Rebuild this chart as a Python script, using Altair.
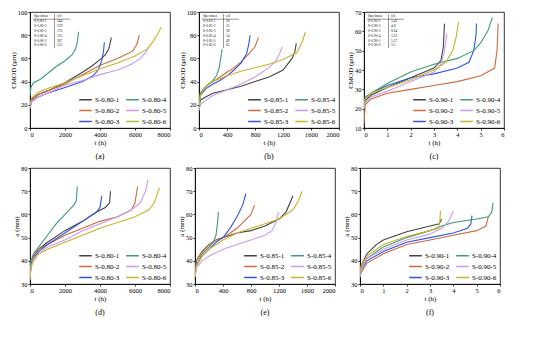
import altair as alt
import pandas as pd

FONT = "Liberation Serif"
COLORS = ["#424242", "#D2693C", "#2F55E0", "#3C9C74", "#C99CEB", "#C9B22C"]

# ---------------- panel (a): CMOD vs t, S-0.80 ----------------
A_NAMES = ["S-0.80-1", "S-0.80-2", "S-0.80-3", "S-0.80-4", "S-0.80-5", "S-0.80-6"]
A_T = [
    [0, 100, 500, 1000, 2000, 3000, 3500, 4000, 4300, 4500, 4650],
    [0, 100, 500, 1000, 2000, 3000, 4000, 5000, 5700, 5900, 6100, 6250],
    [0, 100, 500, 1000, 2000, 3000, 3600, 3900, 4100, 4200, 4250],
    [0, 50, 200, 600, 1000, 1500, 2000, 2400, 2600, 2700, 2780],
    [0, 100, 500, 1000, 2000, 3000, 4000, 5000, 5800, 6300, 6600, 6800],
    [0, 100, 500, 1000, 2000, 3000, 4000, 5000, 6000, 6700, 7000, 7300, 7500],
]
A_V = [
    [18, 25, 29, 32, 39, 48, 53, 59, 63, 68, 78],
    [17, 24, 29, 32, 38, 46, 54, 60, 65, 67, 72, 80],
    [18, 23, 27, 30, 35, 40, 45, 50, 58, 66, 74],
    [28, 35, 39, 42, 47, 53, 58, 63, 68, 74, 83],
    [17, 23, 27, 30, 37, 41, 46, 50, 55, 60, 65, 70],
    [20, 26, 31, 34, 39, 45, 51, 56, 62, 68, 74, 81, 87],
]
A_TABLE = ["244", "239", "176", "125", "287", "312"]

# ---------------- panel (b): CMOD vs t, S-0.85 ----------------
B_NAMES = ["S-0.85-1", "S-0.85-2", "S-0.85-3", "S-0.85-4", "S-0.85-5", "S-0.85-6"]
B_T = [
    [0, 20, 100, 200, 400, 600, 800, 1000, 1200, 1330, 1370, 1390],
    [0, 20, 100, 200, 300, 400, 500, 600, 700, 800, 850],
    [0, 20, 100, 200, 300, 400, 500, 600, 680, 710, 730],
    [0, 20, 100, 200, 250, 290, 310, 330],
    [0, 20, 100, 200, 400, 600, 800, 1000, 1100, 1150, 1190],
    [0, 20, 100, 200, 400, 600, 800, 1000, 1200, 1400, 1480, 1520],
]
B_V = [
    [18, 24, 27, 30, 33, 36, 40, 44, 50, 60, 66, 73],
    [20, 30, 36, 40, 44, 48, 52, 57, 63, 70, 78],
    [20, 28, 34, 38, 41, 45, 50, 56, 64, 72, 80],
    [20, 30, 36, 41, 45, 52, 60, 68],
    [15, 20, 24, 28, 33, 38, 44, 52, 58, 64, 70],
    [18, 28, 36, 40, 45, 49, 52, 55, 59, 65, 75, 83],
]
B_TABLE = ["58", "35", "38", "14", "49", "65"]

# ---------------- panel (c): CMOD vs t, S-0.90 ----------------
C_NAMES = ["S-0.90-1", "S-0.90-2", "S-0.90-3", "S-0.90-4", "S-0.90-5", "S-0.90-6"]
C_T = [
    [0, 0.05, 0.3, 1, 2, 3, 3.3, 3.4, 3.45],
    [0, 0.05, 0.3, 1, 2, 3, 4, 5, 5.6, 5.7, 5.75],
    [0, 0.05, 0.3, 1, 2, 3, 4, 4.5, 4.7, 4.8, 4.82],
    [0, 0.05, 0.3, 1, 2, 3, 4, 4.7, 5, 5.3, 5.5],
    [0, 0.05, 0.3, 1, 2, 3, 3.3, 3.45, 3.55],
    [0, 0.05, 0.3, 1, 2, 3, 3.5, 3.8, 3.95, 4.05],
]
C_V = [
    [20, 24, 27, 31, 36, 41, 45, 52, 64],
    [12, 22, 25, 28, 30, 32, 34, 37, 41, 50, 64],
    [20, 25, 28, 32, 36, 38, 41, 44, 50, 58, 64],
    [22, 26, 28, 33, 39, 43, 46, 50, 54, 60, 67],
    [20, 23, 26, 29, 34, 39, 43, 50, 59],
    [21, 25, 28, 31, 35, 40, 44, 50, 57, 65],
]
C_TABLE = ["3.42", "4.8", "0.64", "3.33", "5.27", "3.5"]

# ---------------- panel (d): a vs t, S-0.80 ----------------
D_T = [
    [0, 50, 200, 500, 1000, 2000, 3000, 3800, 4300, 4550, 4600],
    [0, 50, 200, 500, 1000, 2000, 3000, 4000, 5000, 5800, 6000, 6150],
    [0, 50, 200, 500, 1000, 2000, 3000, 3800, 4000, 4100],
    [0, 50, 200, 500, 1000, 1500, 2000, 2500, 2650, 2700],
    [0, 50, 200, 500, 1000, 2000, 3000, 4000, 5000, 5800, 6300, 6600, 6750],
    [0, 50, 200, 500, 1000, 2000, 3000, 4000, 5000, 6000, 6800, 7100, 7400],
]
D_V = [
    [32, 38, 42, 45, 48, 53, 57, 61, 63, 65, 70],
    [32, 38, 42, 45, 47, 51, 54, 57, 59, 62, 65, 72],
    [32, 38, 41, 44, 47, 52, 57, 61, 63, 68],
    [33, 40, 43, 46, 51, 56, 60, 64, 66, 72],
    [32, 37, 41, 43, 46, 49, 53, 56, 59, 62, 65, 70, 75],
    [32, 37, 40, 43, 45, 48, 51, 54, 56.5, 59, 62, 65, 71.5],
]

# ---------------- panel (e): a vs t, S-0.85 ----------------
E_T = [
    [0, 20, 100, 200, 300, 400, 600, 800, 1000, 1200, 1300, 1400],
    [0, 20, 100, 200, 300, 400, 500, 600, 700, 800, 850],
    [0, 20, 100, 200, 300, 400, 500, 600, 680, 728],
    [0, 20, 100, 200, 260, 300, 320, 335],
    [0, 20, 100, 200, 400, 600, 800, 1000, 1100, 1150, 1196],
    [0, 20, 100, 200, 400, 600, 800, 1000, 1200, 1400, 1480, 1530],
]
E_V = [
    [33, 40, 44, 47, 49, 50, 52, 53, 55, 58, 61, 68],
    [34, 40, 44, 47, 49, 50, 52, 54, 57, 60, 64],
    [33, 38, 42, 45, 48, 50, 54, 59, 64, 69],
    [33, 38, 43, 46, 48, 51, 56, 61],
    [33, 37, 40, 42, 45, 47, 49, 51, 53, 56, 61],
    [33, 38, 42, 45, 49, 52, 54, 56, 58, 62, 66, 70],
]

# ---------------- panel (f): a vs t, S-0.90 ----------------
F_T = [
    [0, 0.05, 0.3, 0.7, 1, 2, 3, 3.4, 3.5],
    [0, 0.05, 0.3, 1, 2, 3, 4, 5, 5.4, 5.5],
    [0, 0.05, 0.3, 1, 2, 3, 4, 4.6, 4.75, 4.8],
    [0, 0.05, 0.3, 1, 2, 3, 3.5, 4, 5, 5.5, 5.65, 5.7],
    [0, 0.05, 0.3, 1, 2, 3, 3.5, 3.8, 4.0],
    [0, 0.05, 0.3, 1, 2, 3, 3.35, 3.42, 3.45],
]
F_V = [
    [34, 38, 43, 47, 49, 52.5, 55, 56, 58],
    [33, 35, 39, 43, 47, 49, 51, 53, 55, 59],
    [33, 36, 40, 44, 48, 50, 52, 54, 56, 59.5],
    [34, 37, 41, 46, 50, 53, 55, 56.5, 58, 59, 61, 65],
    [33, 36, 41, 45, 49, 51.5, 54, 57, 61.5],
    [35, 38, 42, 47, 50.5, 53, 54, 57, 61.5],
]


def make_df(names, ts, vs):
    rows = []
    for name, tl, vl in zip(names, ts, vs):
        for i, (t, v) in enumerate(zip(tl, vl)):
            rows.append({"s": name, "t": t, "v": v, "i": i})
    return pd.DataFrame(rows)


def make_panel(names, ts, vs, xdom, xvals, ydom, yvals, ytitle, caption, table=None):
    df = make_df(names, ts, vs)
    lines = alt.Chart(df).mark_line(strokeWidth=1.1, clip=True).encode(
        x=alt.X("t:Q", scale=alt.Scale(domain=xdom, nice=False, zero=False),
                axis=alt.Axis(values=xvals, format="d", title="t (h)")),
        y=alt.Y("v:Q", scale=alt.Scale(domain=ydom, nice=False, zero=False),
                axis=alt.Axis(values=yvals, format="d", title=ytitle)),
        color=alt.Color("s:N", scale=alt.Scale(domain=names, range=COLORS),
                        legend=alt.Legend(orient="bottom-right", columns=2, title=None,
                                          symbolType="stroke", symbolSize=160,
                                          symbolStrokeWidth=1.5, labelFont=FONT,
                                          labelFontSize=7, labelLimit=60,
                                          columnPadding=3, rowPadding=0,
                                          labelOffset=2, padding=1, offset=2)),
        order=alt.Order("i:Q"),
    )
    layers = [lines]
    if table is not None:
        col1 = "\n".join(["Specimen"] + names)
        col2 = "\n".join(["γ/θ"] + table)
        tdf = pd.DataFrame({"c1": [col1], "c2": [col2]})
        base = alt.Chart(tdf)
        layers.append(base.mark_text(align="left", baseline="top", font=FONT, fontSize=3.6,
                                     lineHeight=4.9, lineBreak="\n", color="#222").encode(
            x=alt.value(4), y=alt.value(2), text="c1:N"))
        layers.append(base.mark_text(align="left", baseline="top", font=FONT, fontSize=3.6,
                                     lineHeight=4.9, lineBreak="\n", color="#222").encode(
            x=alt.value(27), y=alt.value(2), text="c2:N"))
        layers.append(base.mark_rule(color="#333", strokeWidth=0.5).encode(
            x=alt.value(3), x2=alt.value(40), y=alt.value(7.2)))
        layers.append(base.mark_rule(color="#333", strokeWidth=0.5).encode(
            x=alt.value(24.5), y=alt.value(2), y2=alt.value(36)))
    return alt.layer(*layers).properties(
        width=140, height=116,
        title=alt.TitleParams(caption, orient="bottom", font=FONT, fontSize=8,
                              fontWeight="normal", offset=7),
    )


pa = make_panel(A_NAMES, A_T, A_V, [0, 8000], [0, 2000, 4000, 6000, 8000],
                [0, 100], [0, 20, 40, 60, 80, 100], "CMOD (μm)", "(a)", A_TABLE)
pb = make_panel(B_NAMES, B_T, B_V, [0, 2000], [0, 400, 800, 1200, 1600, 2000],
                [0, 100], [0, 20, 40, 60, 80, 100], "CMOD (μm)", "(b)", B_TABLE)
pc = make_panel(C_NAMES, C_T, C_V, [0, 6], [0, 1, 2, 3, 4, 5, 6],
                [10, 70], [10, 20, 30, 40, 50, 60, 70], "CMOD (μm)", "(c)", C_TABLE)
pd_ = make_panel(A_NAMES, D_T, D_V, [0, 8000], [0, 2000, 4000, 6000, 8000],
                 [30, 80], [30, 40, 50, 60, 70, 80], "a (mm)", "(d)")
pe = make_panel(B_NAMES, E_T, E_V, [0, 2000], [0, 400, 800, 1200, 1600, 2000],
                [30, 80], [30, 40, 50, 60, 70, 80], "a (mm)", "(e)")
pf = make_panel(C_NAMES, F_T, F_V, [0, 6], [0, 1, 2, 3, 4, 5, 6],
                [30, 80], [30, 40, 50, 60, 70, 80], "a (mm)", "(f)")

row1 = alt.hconcat(pa, pb, pc, spacing=6).resolve_scale(color="independent").resolve_legend(color="independent")
row2 = alt.hconcat(pd_, pe, pf, spacing=6).resolve_scale(color="independent").resolve_legend(color="independent")

chart = alt.vconcat(row1, row2, spacing=3).resolve_scale(
    color="independent").resolve_legend(color="independent").properties(
    padding={"left": 0, "top": 0, "right": 0, "bottom": 0}
).configure_view(stroke="black", strokeWidth=0.8).configure_axis(
    grid=False, domainColor="black", tickColor="black", labelColor="black",
    titleColor="black", labelFont=FONT, titleFont=FONT, labelFontSize=6.5,
    titleFontSize=7, titleFontWeight="normal", tickSize=2, labelPadding=1,
    titlePadding=1, domainWidth=0.8, tickWidth=0.8,
)

chart.save("out.html", embed_options={"renderer": "svg", "actions": False})
